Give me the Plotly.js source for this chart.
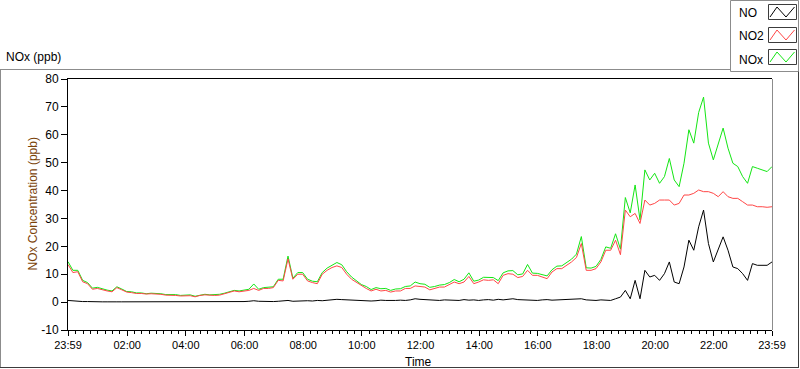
<!DOCTYPE html>
<html><head><meta charset="utf-8">
<script src="https://cdn.plot.ly/plotly-3.0.1.min.js"></script>
<style>html,body{margin:0;padding:0;background:#fff;overflow:hidden}#chart{width:800px;height:369px}</style>
</head><body><div id="chart"></div>
<script>
// ---- data (10-minute samples from 23:59 to 23:59) ----
const startHour = -1/60;
const stepHours = 1/6;
const xTickHours = [-1/60, 2, 4, 6, 8, 10, 12, 14, 16, 18, 20, 22, 24 - 1/60];
const xTickLabels = ["23:59","02:00","04:00","06:00","08:00","10:00","12:00","14:00","16:00","18:00","20:00","22:00","23:59"];
const yTickValues = [-10, 0, 10, 20, 30, 40, 50, 60, 70, 80];
const yTickLabels = ["-10","0","10","20","30","40","50","60","70","80"];
const seriesNames = ["NO", "NO2", "NOx"];

const NO = [
 0.6,0.4,0.3,0.2,0.2,0.1,
 0.2,0.1,0.1,0.2,0.1,0.1,
 0.1,0.2,0.1,0.1,0.0,0.1,
 0.1,0.0,0.1,0.1,0.2,0.1,
 0.1,0.2,0.1,0.0,0.1,0.1,
 0.1,0.2,0.1,0.2,0.1,0.2,
 0.2,0.3,0.5,0.3,0.2,0.3,
 0.2,0.3,0.4,0.6,0.3,0.4,
 0.3,0.5,0.4,0.6,0.5,0.7,
 0.8,1.0,0.9,0.8,0.7,0.6,
 0.5,0.6,0.4,0.5,0.7,0.6,
 0.5,0.6,0.7,0.6,0.8,1.2,
 1.0,0.9,0.8,0.7,0.6,0.8,
 0.7,0.8,0.6,0.9,0.7,0.8,
 0.6,0.8,0.9,0.7,1.0,0.8,
 0.9,1.2,0.9,0.8,0.9,0.7,
 0.6,0.8,0.9,0.7,0.8,0.9,
 0.8,0.9,1.0,1.2,0.8,0.7,
 0.6,0.8,0.8,0.6,1.2,1.8,
 4.2,1.2,7.8,1.2,11.4,9.0,
 9.6,7.8,10.2,14.4,7.2,6.6,
 12.6,22.2,18.6,27.0,33.0,21.0,
 14.4,18.6,23.4,18.6,12.6,12.0,
 10.2,7.8,13.8,13.2,13.2,13.2,
 14.4
];
const NO2 = [
 13.5,10.6,10.9,7.3,6.6,4.6,
 4.9,4.4,4.0,3.7,5.2,4.4,
 3.6,3.4,3.1,3.1,2.9,3.0,
 3.0,2.8,2.5,2.5,2.4,2.2,
 2.2,2.3,1.9,2.4,2.6,2.4,
 2.4,2.5,3.0,3.4,4.0,3.7,
 4.0,4.2,4.9,4.2,4.9,4.9,
 5.2,7.8,7.6,15.5,8.2,10.0,
 10.0,7.6,7.0,6.6,10.0,11.4,
 12.4,13.0,12.4,10.0,8.2,7.0,
 5.8,4.9,4.0,4.6,4.0,4.2,
 3.6,4.0,4.0,4.9,4.9,5.8,
 5.6,5.4,4.4,4.8,5.4,5.4,
 6.2,7.2,6.6,7.2,9.2,6.6,
 7.2,8.0,7.8,8.0,6.6,9.6,
 10.2,10.0,8.8,9.2,11.4,9.6,
 9.6,9.0,8.4,10.8,12.0,12.0,
 13.2,14.4,16.0,21.0,11.4,11.4,
 12.0,14.4,18.6,18.6,22.2,17.0,
 33.0,30.6,31.8,28.2,36.6,34.8,
 35.4,36.6,36.6,36.6,34.8,35.4,
 38.4,38.4,39.0,40.2,39.6,39.6,
 39.0,37.8,39.6,37.8,37.2,37.2,
 36.0,34.8,34.8,34.2,34.2,34.0,
 34.2
];
const NOx = [
 14.5,11.4,11.4,7.8,7.0,5.0,
 5.3,4.7,4.3,4.0,5.5,4.7,
 3.8,3.7,3.3,3.3,3.0,3.2,
 3.2,3.0,2.7,2.7,2.7,2.4,
 2.4,2.6,2.1,2.5,2.8,2.6,
 2.6,2.8,3.2,3.7,4.2,4.0,
 4.3,4.6,6.5,4.6,5.2,5.3,
 5.5,8.2,8.2,16.5,8.6,10.6,
 10.6,8.2,7.5,7.3,10.6,12.2,
 13.3,14.2,13.4,10.9,9.0,7.7,
 6.3,5.6,4.5,5.2,4.8,4.9,
 4.2,4.7,4.8,5.6,5.8,7.2,
 6.6,6.4,5.3,5.6,6.1,6.3,
 7.0,8.1,7.3,8.2,10.5,7.5,
 7.9,8.9,8.8,8.8,7.7,10.5,
 11.2,11.3,9.8,10.1,13.5,10.4,
 10.3,9.9,9.4,11.6,12.9,13.0,
 14.1,15.4,17.2,23.5,12.3,12.2,
 12.8,15.3,19.8,19.3,24.5,19.0,
 37.5,32.0,42.0,29.5,47.4,43.8,
 46.2,42.6,45.0,51.5,43.8,41.4,
 49.8,61.8,57.0,68.0,73.5,57.0,
 51.0,57.0,62.4,55.2,49.8,48.6,
 45.0,42.6,48.6,48.0,47.4,46.8,
 48.6
];

const times = NO.map((_, i) => startHour + i * stepHours);

// ---- layout geometry (pixels) ----
const W = 800, H = 369;
const M = {l: 68, r: 28, t: 79, b: 39};
const PW = W - M.l - M.r, PH = H - M.t - M.b;
const px = X => (X - M.l) / PW;
const py = Y => (M.t + PH - Y) / PH;

const colors = {NO: "#000000", NO2: "#ff4646", NOx: "#14e614"};
const FONT = "Liberation Sans, Arial, sans-serif";

const traces = [
  {x: times, y: NOx, name: "NOx", type: "scatter", mode: "lines", line: {color: colors.NOx, width: 1}, showlegend: false, hoverinfo: "skip"},
  {x: times, y: NO2, name: "NO2", type: "scatter", mode: "lines", line: {color: colors.NO2, width: 1}, showlegend: false, hoverinfo: "skip"},
  {x: times, y: NO, name: "NO", type: "scatter", mode: "lines", line: {color: colors.NO, width: 1}, showlegend: false, hoverinfo: "skip"}
];

function line(x0, y0, x1, y1, color) {
  return {type: "line", xref: "paper", yref: "paper", x0: px(x0), y0: py(y0), x1: px(x1), y1: py(y1), line: {color: color, width: 1}, layer: "above"};
}
const shapes = [
  // outer frame
  line(0, 69.5, 730, 69.5, "#8c8c8c"),
  line(0.5, 69.5, 0.5, 368, "#8c8c8c"),
  line(0, 367.5, 799, 367.5, "#3c3c3c"),
  line(798.5, 71.5, 798.5, 368, "#3c3c3c"),
  // right edge of plot (gray)
  line(772.5, 79, 772.5, 330, "#8c8c8c"),
  // legend box
  {type: "rect", xref: "paper", yref: "paper", x0: px(730.5), y0: py(0.5), x1: px(798.5), y1: py(71.5), line: {color: "#8c8c8c", width: 1}, fillcolor: "#ffffff", layer: "below"}
];
const swatchTops = [4.5, 27.5, 49.5];
const swatchColors = [colors.NO, colors.NO2, colors.NOx];
swatchTops.forEach((top, k) => {
  shapes.push({type: "rect", xref: "paper", yref: "paper", x0: px(768.5), y0: py(top), x1: px(796.5), y1: py(top + 15), line: {color: "#3c3c3c", width: 1}, layer: "above"});
  const pts = [[770, top + 12.5], [777, top + 2.5], [786, top + 12.5], [794.5, top + 2.5]];
  const path = pts.map((p, i) => (i ? "L" : "M") + px(p[0]) + "," + py(p[1])).join(" ");
  shapes.push({type: "path", xref: "paper", yref: "paper", path: path, line: {color: swatchColors[k], width: 1}, layer: "above"});
});

const annotations = [
  {text: "NOx (ppb)", xref: "paper", yref: "paper", x: px(4), y: py(57), xanchor: "left", yanchor: "middle", showarrow: false, font: {family: FONT, size: 12, color: "#000"}},
  {text: "NOx Concentration (ppb)", xref: "paper", yref: "paper", x: px(32), y: py(204.5), xanchor: "center", yanchor: "middle", textangle: -90, showarrow: false, font: {family: FONT, size: 12, color: "#7a4208"}},
  {text: "Time", xref: "paper", yref: "paper", x: px(418.5), y: py(362), xanchor: "center", yanchor: "middle", showarrow: false, font: {family: FONT, size: 12, color: "#000"}}
];
const legendY = [12.5, 36, 60];
seriesNames.forEach((n, k) => {
  annotations.push({text: n, xref: "paper", yref: "paper", x: px(737), y: py(legendY[k]), xanchor: "left", yanchor: "middle", showarrow: false, font: {family: FONT, size: 12, color: "#000"}});
});

const layout = {
  width: W, height: H,
  margin: M,
  paper_bgcolor: "#ffffff", plot_bgcolor: "#ffffff",
  showlegend: false,
  font: {family: FONT, size: 12, color: "#000"},
  xaxis: {
    range: [startHour, 24 - 1/60],
    tickmode: "array", tickvals: xTickHours, ticktext: xTickLabels,
    ticks: "outside", ticklen: 5, tickwidth: 1, tickcolor: "#000",
    tickfont: {family: FONT, size: 11, color: "#000"},
    minor: {tickmode: "linear", tick0: 0, dtick: 0.25, ticks: "outside", ticklen: 3, tickwidth: 1, tickcolor: "#000", showgrid: false},
    showline: true, linecolor: "#000", linewidth: 1, mirror: true,
    showgrid: false, zeroline: false, fixedrange: true
  },
  yaxis: {
    range: [-10, 80],
    tickmode: "array", tickvals: yTickValues, ticktext: yTickLabels,
    ticks: "outside", ticklen: 6, tickwidth: 1, tickcolor: "#000",
    tickfont: {family: FONT, size: 12, color: "#000"},
    showline: true, linecolor: "#000", linewidth: 1,
    showgrid: false, zeroline: false, fixedrange: true
  },
  shapes: shapes,
  annotations: annotations
};

Plotly.newPlot("chart", traces, layout, {staticPlot: true, displayModeBar: false});
</script>
</body></html>
